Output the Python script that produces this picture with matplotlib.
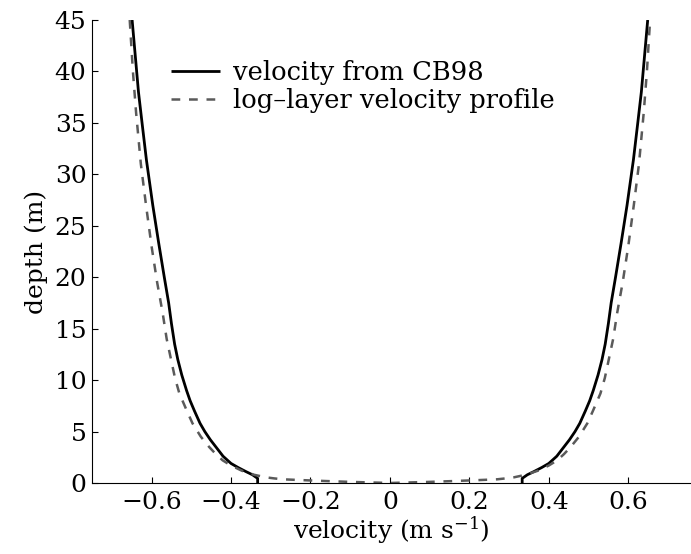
import matplotlib
matplotlib.use("Agg")
import matplotlib.pyplot as plt
import numpy as np

# velocity from CB98 (magnitude, same on both sides)
cb_depth = [0, 0.45, 0.8, 1.1, 1.5, 1.9, 2.6, 3.5, 4.2, 5.0, 5.8, 7.0, 8.0, 9.0, 10.5, 12.0,
            13.5, 15.5, 17.5, 20, 23.3, 27, 31.4, 35, 38, 41.5, 45]
cb_vel = [0.333, 0.333, 0.346, 0.362, 0.382, 0.400, 0.420, 0.438, 0.452, 0.466, 0.478, 0.492,
          0.503, 0.512, 0.524, 0.534, 0.542, 0.550, 0.557, 0.568, 0.582, 0.597, 0.613, 0.624,
          0.633, 0.641, 0.649]

# log-layer velocity profile (magnitude)
log_depth = [0, 0.03, 0.1, 0.19, 0.29, 0.36, 0.45, 0.55, 0.8, 1.2, 1.7, 2.2, 2.8, 3.5, 4.5,
             5.8, 7.0, 8.7, 10.2, 12, 14, 16.5, 19.5, 23, 27, 31, 36, 40, 45]
log_vel = [0, 0.026, 0.094, 0.161, 0.228, 0.27, 0.292, 0.312, 0.342, 0.373, 0.400, 0.421, 0.438,
           0.455, 0.476, 0.497, 0.511, 0.530, 0.541, 0.551, 0.562, 0.572, 0.586, 0.600, 0.614,
           0.627, 0.639, 0.647, 0.655]

xticks = [-0.6, -0.4, -0.2, 0, 0.2, 0.4, 0.6]
xticklabels = ["\u22120.6", "\u22120.4", "\u22120.2", "0", "0.2", "0.4", "0.6"]
yticks = [0, 5, 10, 15, 20, 25, 30, 35, 40, 45]

plt.rcParams["font.family"] = "DejaVu Serif"
plt.rcParams["mathtext.fontset"] = "dejavuserif"

fig = plt.figure(figsize=(6.91, 5.54), dpi=100)
ax = fig.add_axes([92/691, 71/554, 599/691, 463/554])

cbv = np.array(cb_vel)
lv = np.array(log_vel)
ld = np.array(log_depth)

# solid: two separate branches
ax.plot(cbv, cb_depth, color="black", lw=2.0, solid_capstyle="butt", label="velocity from CB98")
ax.plot(-cbv, cb_depth, color="black", lw=2.0, solid_capstyle="butt")

# dashed: one U-shaped line
ax.plot(np.concatenate([-lv[::-1], lv[1:]]), np.concatenate([ld[::-1], ld[1:]]),
        color="#5a5a5a", lw=1.8, dashes=(3.5, 3.5), label="log\u2013layer velocity profile")

ax.set_xlim(-0.75, 0.758)
ax.set_ylim(0, 45)
ax.set_xticks(xticks)
ax.set_xticklabels(xticklabels)
ax.set_yticks(yticks)
ax.tick_params(direction="in", length=4, width=0.8, labelsize=18)
ax.tick_params(axis="x", pad=6)
ax.tick_params(axis="y", pad=4)
ax.spines["top"].set_visible(False)
ax.spines["right"].set_visible(False)
for s in ["left", "bottom"]:
    ax.spines[s].set_linewidth(0.8)

ax.set_xlabel(r"velocity (m s$^{-1}$)", fontsize=18, labelpad=0)
ax.set_ylabel("depth (m)", fontsize=18, labelpad=5)

ax.legend(loc="upper left", bbox_to_anchor=(0.115, 0.935), frameon=False, fontsize=18.5,
          handlelength=1.9, handletextpad=0.5, labelspacing=0.1, borderaxespad=0)

fig.savefig("out.png", dpi=100)
